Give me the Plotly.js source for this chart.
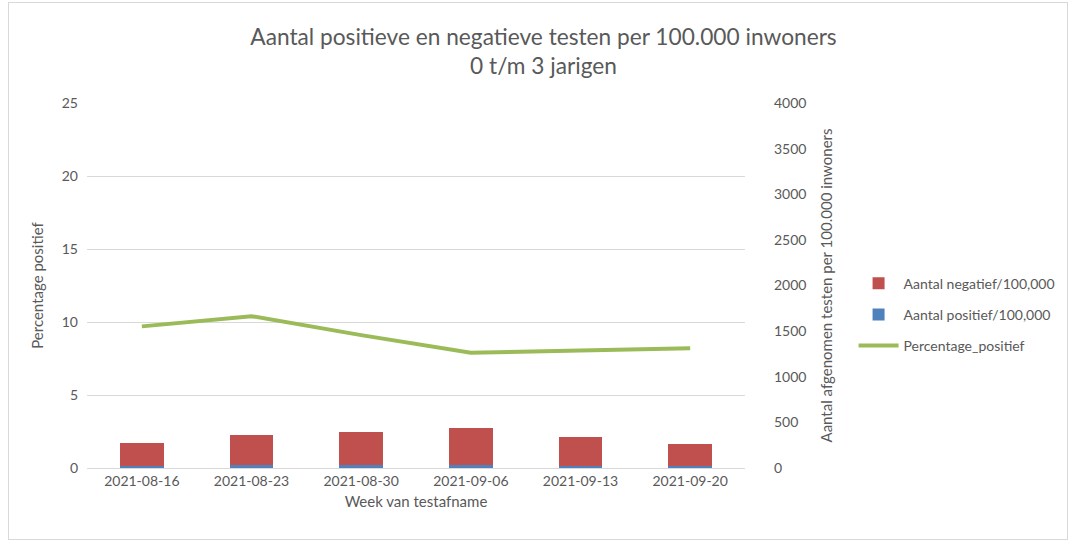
<!DOCTYPE html>
<html><head><meta charset="utf-8">
<script src="https://cdn.plot.ly/plotly-3.0.1.min.js"></script>
<style>
html,body{margin:0;padding:0;background:#fff;}
#wrap{position:relative;width:1072px;height:545px;}
#chart{width:1072px;height:545px;}
#frame{position:absolute;left:8px;top:2px;width:1060px;height:538px;border:1px solid #d9d9d9;pointer-events:none;box-sizing:border-box;}
</style></head>
<body>
<div id="wrap"><div id="chart"></div><div id="frame"></div></div>
<script>
const weeks = ["2021-08-16","2021-08-23","2021-08-30","2021-09-06","2021-09-13","2021-09-20"];
const negatief = [244, 323, 355, 401, 308, 241];
const positief = [26, 37, 35, 34, 27, 21];
const percentage = [9.7, 10.4, 9.1, 7.9, 8.05, 8.2];

const font = "Lato, 'Open Sans', sans-serif";
const traces = [
  {type:"bar", x:weeks, y:positief, name:"Aantal positief/100,000", yaxis:"y2",
   marker:{color:"#4f81bd"}, width:0.4, legendrank:2, legendgroup:"b"},
  {type:"bar", x:weeks, y:negatief, name:"Aantal negatief/100,000", yaxis:"y2",
   marker:{color:"#c0504d"}, width:0.4, legendrank:1, legendgroup:"a"},
  {type:"scatter", mode:"lines", x:weeks, y:percentage, name:"Percentage_positief",
   line:{color:"#9bbb59", width:4}, legendrank:3, legendgroup:"c"}
];
const layout = {
  width:1072, height:545,
  margin:{l:87, r:312, t:103, b:77},
  paper_bgcolor:"#fff", plot_bgcolor:"#fff",
  font:{family:font, size:14, color:"#595959"},
  barmode:"stack",
  showlegend:true,
  title:{text:"Aantal positieve en negatieve testen per 100.000 inwoners<br>0 t/m 3 jarigen",
    font:{size:22.7, color:"#595959", family:font}, x:0.507, xanchor:"center", y:0.918, yanchor:"top"},
  xaxis:{type:"category", showgrid:false, showline:true, linecolor:"#d9d9d9", linewidth:1,
    ticks:"", tickfont:{size:14, color:"#595959"},
    title:{text:"Week van testafname", font:{size:15, color:"#595959"}, standoff:8}},
  yaxis:{range:[0,25], dtick:5, showgrid:true, gridcolor:"#d9d9d9", zeroline:false,
    showline:false, ticks:"", tickfont:{size:14, color:"#595959"}, ticklabelstandoff:8,
    title:{text:"Percentage positief", font:{size:15, color:"#595959"}, standoff:14}},
  yaxis2:{range:[0,4000], dtick:500, overlaying:"y", side:"right", showgrid:false,
    zeroline:false, showline:false, ticks:"", tickfont:{size:14, color:"#595959"},
    ticklabelstandoff:28,
    title:{text:"Aantal afgenomen testen per 100.000 inwoners", font:{size:15, color:"#595959"}, standoff:16}},
  legend:{x:1.165, y:0.549, xanchor:"left", yanchor:"top", traceorder:"grouped",
    font:{size:14, color:"#595959"}, bgcolor:"rgba(0,0,0,0)", itemwidth:40, tracegroupgap:10}
};
Plotly.newPlot("chart", traces, layout, {displayModeBar:false, staticPlot:true});
</script>
</body></html>
